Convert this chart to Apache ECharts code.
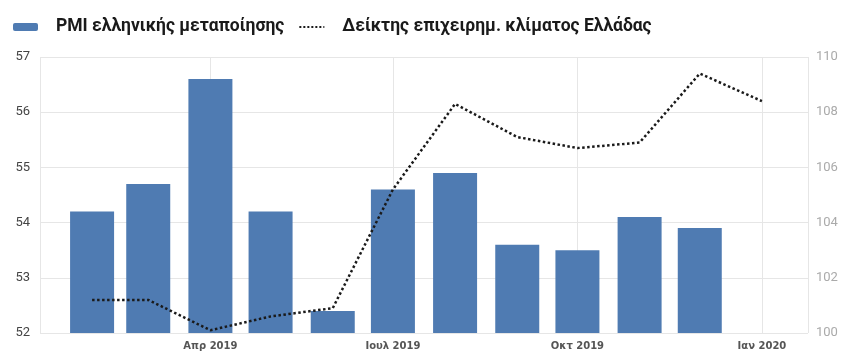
<!DOCTYPE html>
<html>
<head>
<meta charset="utf-8">
<script src="https://cdn.jsdelivr.net/npm/echarts@6/dist/echarts.min.js"></script>
<style>
  html, body { margin: 0; padding: 0; background: #fff; }
  #chart { width: 845px; height: 352px; }
</style>
</head>
<body>
<div id="chart"></div>
<script>
// months (first day of each), PMI bars and sentiment line
const months = ['2019-02-01', '2019-03-01', '2019-04-01', '2019-05-01', '2019-06-01', '2019-07-01',
  '2019-08-01', '2019-09-01', '2019-10-01', '2019-11-01', '2019-12-01', '2020-01-01']
const pmi = [54.2, 54.7, 56.6, 54.2, 52.4, 54.6, 54.9, 53.6, 53.5, 54.1, 53.9, null]
const sentiment = [101.2, 101.2, 100.1, 100.6, 100.9, 105.2, 108.3, 107.1, 106.7, 106.9, 109.4, 108.4]
const monthNames = ['Ιαν', 'Φεβ', 'Μαρ', 'Απρ', 'Μαΐ', 'Ιουν', 'Ιουλ', 'Αυγ', 'Σεπ', 'Οκτ', 'Νοε', 'Δεκ']
const pmiName = 'PMI ελληνικής μεταποίησης'
const sentName = 'Δείκτης επιχειρημ. κλίματος Ελλάδας'

const chart = echarts.init(document.getElementById('chart'))

chart.setOption({
  animation: false,
  legend: {
    left: 8,
    top: 13,
    itemGap: 14,
    itemWidth: 25,
    itemHeight: 8,
    textStyle: {
      fontFamily: 'Roboto, sans-serif',
      fontWeight: 'bold',
      fontSize: 17.5,
      color: '#1a1a1a',
      padding: [0, 0, 0, 13]
    },
    data: [
      { name: pmiName, icon: 'roundRect' },
      { name: sentName, itemStyle: { opacity: 0 } }
    ]
  },
  grid: {
    left: 40,
    right: 37,
    top: 57,
    bottom: 19
  },
  xAxis: {
    type: 'time',
    // bars widen the time extent by about half a bar each side
    min: '2019-01-17',
    max: '2020-01-13',
    splitNumber: 4,
    minInterval: 80 * 24 * 3600 * 1000,
    axisLine: { show: false },
    axisTick: { show: false },
    splitLine: { show: true, lineStyle: { color: '#e6e6e6' } },
    axisLabel: {
      fontFamily: 'DejaVu Sans',
      fontWeight: 'bold',
      fontSize: 10,
      color: '#555',
      margin: 8,
      formatter: function (v) {
        const d = new Date(v)
        if (d.getDate() !== 1) return ''
        return monthNames[d.getMonth()] + ' ' + d.getFullYear()
      }
    }
  },
  yAxis: [
    {
      type: 'value',
      min: 52,
      max: 57,
      interval: 1,
      axisLine: { show: false },
      axisTick: { show: false },
      splitLine: { lineStyle: { color: '#e6e6e6' } },
      axisLabel: { fontFamily: 'Roboto', fontSize: 13, color: '#444', margin: 10 }
    },
    {
      type: 'value',
      min: 100,
      max: 110,
      interval: 2,
      axisLine: { show: false },
      axisTick: { show: false },
      splitLine: { show: false },
      axisLabel: { fontFamily: 'Roboto', fontSize: 13, color: '#aaa', margin: 8 }
    }
  ],
  series: [
    {
      name: pmiName,
      type: 'bar',
      barWidth: 44,
      itemStyle: { color: '#4f7bb2' },
      data: months.map((m, i) => [m, pmi[i]])
    },
    {
      name: sentName,
      type: 'line',
      yAxisIndex: 1,
      symbol: 'none',
      lineStyle: { color: '#1a1a1a', width: 2.5, type: 'dotted' },
      itemStyle: { color: '#1a1a1a' },
      data: months.map((m, i) => [m, sentiment[i]])
    }
  ]
})
</script>
</body>
</html>
